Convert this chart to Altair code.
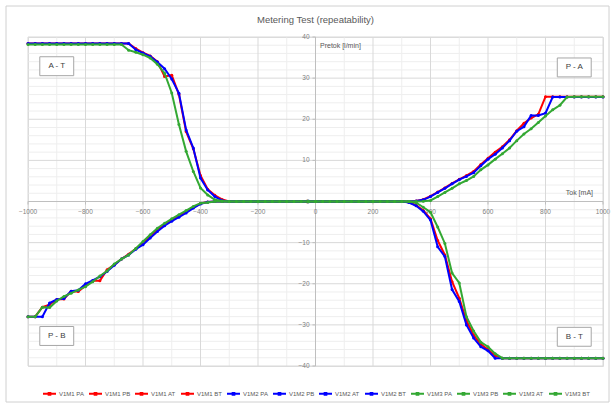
import altair as alt
import pandas as pd

# ---------------- data ----------------
X_POS = [0, 25, 50, 75, 100, 125, 150, 175, 200, 225, 250, 275, 300, 325, 350, 375, 400,
         425, 450, 475, 500, 525, 550, 575, 600, 625, 650, 675, 700, 725, 750, 775, 800,
         825, 850, 875, 900, 925, 950, 975, 1000]
X_NEG = [0, -25, -50, -75, -100, -125, -150, -175, -200, -225, -250, -275, -300, -325, -350,
         -375, -400, -425, -450, -475, -500, -525, -550, -575, -600, -625, -650, -675, -700,
         -725, -750, -775, -800, -825, -850, -875, -900, -925, -950, -975, -1000]

# P-A (x >= 0)
V1M1_PA = [0]*14 + [0.1, 0.5, 1.3, 2.3, 3.3, 4.4, 5.4, 6.3, 7.3, 9.0, 10.5, 12.0, 13.3, 15.0,
                    17.2, 19.0, 20.3, 21.2, 25.5] + [25.5]*8
V1M2_PA = [0]*14 + [0.1, 0.4, 1.2, 2.2, 3.2, 4.3, 5.3, 6.1, 7.0, 8.7, 10.3, 11.5, 13.0, 14.8,
                    17.1, 18.2, 20.9, 20.9, 21.5] + [25.4]*8
V1M3_PA = [0]*15 + [0.05, 0.25, 1.2, 2.2, 3.2, 4.3, 5.1, 6.1, 7.7, 8.9, 10.3, 11.6, 13.0, 14.8,
                    16.4, 17.7, 19.2, 20.8, 22.3, 23.4, 25.4] + [25.5]*5
# B-T (x >= 0)
V1M1_BT = [0]*13 + [-0.2, -0.9, -2.2, -4.2, -9.5, -13.0, -19.5, -23.5, -29.0, -32.5, -34.7,
                    -36.0, -37.5] + [-38.1]*15
V1M2_BT = [0]*13 + [-0.25, -1.05, -2.4, -4.5, -11.0, -13.4, -21.4, -24.3, -30.0, -33.2, -35.3,
                    -36.3, -38.1] + [-38.1]*15
V1M3_BT = [0]*14 + [-0.3, -1.4, -2.6, -6.2, -10.2, -17.4, -19.8, -28.0, -31.5, -34.2, -35.3,
                    -37.0] + [-38.1]*15
# A-T (x <= 0)
V1M1_AT = [0]*13 + [0.5, 1.5, 3.0, 6.3, 12.8, 17.0, 26.0, 30.7, 30.4, 34.0, 35.4, 36.2, 37.2,
                    38.4] + [38.4]*14
V1M2_AT = [0]*13 + [0.25, 1.2, 2.8, 5.7, 13.0, 17.4, 26.3, 29.8, 32.3, 33.9, 35.3, 36.1, 36.9,
                    38.4] + [38.4]*14
V1M3_AT = [0]*13 + [0.1, 0.4, 1.6, 3.3, 7.3, 12.2, 18.7, 26.4, 31.2, 33.4, 34.9, 35.7, 36.3,
                    36.8] + [38.2]*14
# P-B (x <= 0)
V1M1_PB = [0]*15 + [-0.1, -0.5, -1.4, -2.5, -3.5, -4.5, -5.6, -6.9, -8.5, -10.1, -11.5, -12.8,
                    -14.0, -15.4, -16.6, -19.3, -19.3, -20.5, -21.9, -21.8, -23.7, -23.8, -25.1,
                    -25.7, -28.0, -28.0]
V1M2_PB = [0]*15 + [-0.1, -0.6, -1.6, -2.8, -3.8, -4.8, -5.9, -7.3, -8.9, -10.5, -11.6, -13.0,
                    -14.0, -15.5, -17.0, -18.3, -19.2, -20.0, -21.6, -21.8, -23.6, -23.8, -24.7,
                    -28.0, -28.0, -28.0]
V1M3_PB = [0]*15 + [-0.25, -0.4, -1.2, -2.2, -3.2, -4.2, -5.3, -6.5, -8.1, -9.7, -11.4, -13.0,
                    -14.0, -15.2, -16.9, -18.1, -19.5, -20.7, -21.5, -22.3, -23.1, -24.2, -25.8,
                    -25.7, -28.0, -28.0]

SERIES = ["V1M1 PA", "V1M1 PB", "V1M1 AT", "V1M1 BT",
          "V1M2 PA", "V1M2 PB", "V1M2 AT", "V1M2 BT",
          "V1M3 PA", "V1M3 PB", "V1M3 AT", "V1M3 BT"]
SERIES_X = [X_POS, X_NEG, X_NEG, X_POS] * 3
SERIES_Y = [V1M1_PA, V1M1_PB, V1M1_AT, V1M1_BT,
            V1M2_PA, V1M2_PB, V1M2_AT, V1M2_BT,
            V1M3_PA, V1M3_PB, V1M3_AT, V1M3_BT]

X_TICKS = [-1000, -800, -600, -400, -200, 0, 200, 400, 600, 800, 1000]
Y_TICKS = [-40, -30, -20, -10, 0, 10, 20, 30, 40]

BOX_LABELS = ["A - T", "P - A", "P - B", "B - T"]
BOX_X = [-900, 900, -900, 900]
BOX_Y = [32.9, 32.6, -32.7, -32.9]

TITLE = "Metering Test (repeatability)"
Y_TITLE = "Pretok [l/min]"
X_TITLE = "Tok [mA]"

# ---------------- styles ----------------
RED, BLUE, GREEN = "#ff0000", "#0000ff", "#33a833"
COLORS = [RED]*4 + [BLUE]*4 + [GREEN]*4
FONT = "Liberation Sans"
W, H = 575, 329
AXIS_COL = "#bfbfbf"
LABEL_COL = "#7f7f7f"

rows = []
for name, xs, ys in zip(SERIES, SERIES_X, SERIES_Y):
    for i, (x, y) in enumerate(zip(xs, ys)):
        rows.append({"series": name, "maker": name[:4], "x": x, "y": y, "i": i})
df = pd.DataFrame(rows)

xscale = alt.Scale(domain=[-1000, 1000], nice=False, zero=False)
yscale = alt.Scale(domain=[-40, 40], nice=False, zero=False)


def X(f):
    return alt.X(f, scale=xscale, axis=None)


def Y(f):
    return alt.Y(f, scale=yscale, axis=None)


legend = alt.Legend(title=None, orient="none", legendX=14, legendY=349,
                    direction="horizontal", columns=12, padding=0,
                    symbolType="M-1,0L1,0M-0.13,-0.13L0.13,-0.13L0.13,0.13L-0.13,0.13Z",
                    symbolSize=169, symbolStrokeWidth=2, labelFontSize=6,
                    labelColor="#595959", labelFont=FONT, labelOffset=2,
                    columnPadding=0, gridAlign="all")

color = alt.Color("series:N", scale=alt.Scale(domain=SERIES, range=COLORS), legend=legend)


def grid_layer(channel, vals, col):
    g = pd.DataFrame({"v": vals})
    enc = dict(x=X("v:Q")) if channel == "x" else dict(y=Y("v:Q"))
    return alt.Chart(g).mark_rule(color=col, strokeWidth=1).encode(**enc)


minor_x = [v for v in range(-1000, 1001, 100) if v % 200 != 0]
minor_y = [v for v in range(-40, 41, 2) if v % 10 != 0]
major_x = [v for v in range(-1000, 1001, 200) if v != 0]
major_y = [v for v in range(-40, 41, 10) if v != 0]

layers = [
    grid_layer("x", minor_x, "#eeeeee"),
    grid_layer("y", minor_y, "#eeeeee"),
    grid_layer("x", major_x, "#d9d9d9"),
    grid_layer("y", major_y, "#d9d9d9"),
    grid_layer("x", [0], AXIS_COL),
    grid_layer("y", [0], AXIS_COL),
]

# ticks (3 px outward) and tick labels
xt = pd.DataFrame({"v": X_TICKS})
yt = pd.DataFrame({"v": Y_TICKS})
layers.append(alt.Chart(xt).transform_calculate(z="0", z2="-3*80/%d" % H)
              .mark_rule(color=AXIS_COL).encode(x=X("v:Q"), y=Y("z:Q"), y2="z2:Q"))
layers.append(alt.Chart(yt).transform_calculate(z="0", z2="-3*2000/%d" % W)
              .mark_rule(color=AXIS_COL).encode(y=Y("v:Q"), x=X("z:Q"), x2="z2:Q"))
layers.append(alt.Chart(xt).transform_calculate(z="0")
              .mark_text(fontSize=6.5, color=LABEL_COL, font=FONT, baseline="middle", dy=10)
              .encode(x=X("v:Q"), y=Y("z:Q"), text="v:Q"))
layers.append(alt.Chart(yt).transform_calculate(z="0")
              .mark_text(fontSize=6.5, color=LABEL_COL, font=FONT, baseline="middle",
                         align="right", dx=-6)
              .encode(y=Y("v:Q"), x=X("z:Q"), text="v:Q"))

for maker in ["V1M1", "V1M2", "V1M3"]:
    layers.append(
        alt.Chart(df).transform_filter(alt.datum.maker == maker)
        .mark_line(strokeWidth=2, point=alt.OverlayMarkDef(filled=True, size=9, opacity=1))
        .encode(x=X("x:Q"), y=Y("y:Q"), color=color, order="i:Q")
    )

boxes = pd.DataFrame({"label": BOX_LABELS, "bx": BOX_X, "by": BOX_Y})
box_rect = alt.Chart(boxes).transform_calculate(
    x1="datum.bx - 59", x2="datum.bx + 59", y1="datum.by - 2.3", y2="datum.by + 2.3"
).mark_rect(fill="white", stroke="#a6a6a6", strokeWidth=1).encode(
    x=X("x1:Q"), x2="x2:Q", y=Y("y1:Q"), y2="y2:Q")
box_text = alt.Chart(boxes).mark_text(fontSize=8, color="#404040", font=FONT).encode(
    x=X("bx:Q"), y=Y("by:Q"), text="label:N")


def label(txt, x, y, align, size, col):
    return alt.Chart(pd.DataFrame({"t": [txt]})).mark_text(
        align=align, baseline="middle", fontSize=size, color=col, font=FONT
    ).encode(x=alt.value(x), y=alt.value(y), text="t:N")


border = alt.Chart(pd.DataFrame({"a": [0]})).mark_rect(
    fillOpacity=0, stroke="#d0d0d0", strokeWidth=1
).encode(x=alt.value(-22), x2=alt.value(581), y=alt.value(-31), y2=alt.value(365))

layers += [box_rect, box_text,
           label(Y_TITLE, 292, 9, "left", 7, "#595959"),
           label(X_TITLE, 565, 156, "right", 7, "#595959"),
           label(TITLE, W / 2, -17, "center", 9.5, "#595959"),
           border]

chart = alt.layer(*layers).properties(
    width=W, height=H,
    autosize=alt.AutoSizeParams(type="none"),
    padding={"left": 28, "top": 37, "right": 11, "bottom": 38},
).configure_view(stroke=None).configure(background="white")

chart.save("out.html", embed_options={"renderer": "svg", "actions": False})
